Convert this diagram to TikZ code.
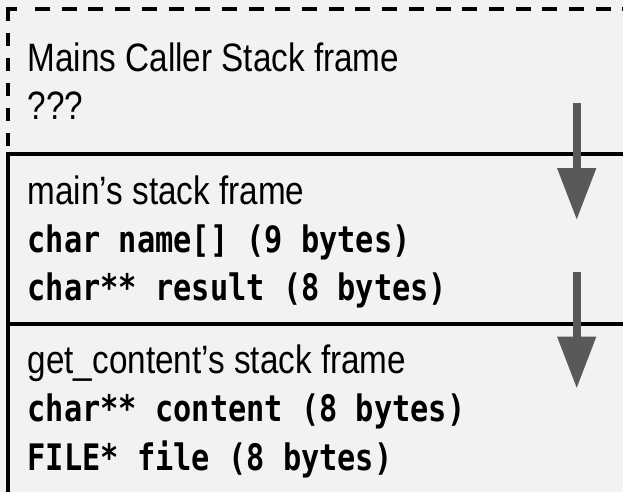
\documentclass[tikz,border=0pt]{standalone}
\usepackage{fontspec}
\setmainfont[FakeStretch=0.84]{Liberation Sans}
\newfontfamily\codefont[FakeStretch=0.83]{DejaVu Sans Mono}
\usetikzlibrary{arrows.meta}
\definecolor{bg}{HTML}{F2F2F2}
\definecolor{arrowgray}{HTML}{595959}
\begin{document}
\begin{tikzpicture}[x=1pt,y=-1pt,
  titletext/.style={anchor=base west, inner sep=0pt, font=\fontsize{39.6}{47}\selectfont},
  codetext/.style={anchor=base west, inner sep=0pt, font=\fontsize{36.5}{44}\selectfont\codefont\bfseries},
  frameline/.style={line width=4pt, draw=black},
  dashline/.style={line width=4pt, draw=black},
  growarrow/.style={draw=arrowgray, line width=8pt, -{Triangle[length=52pt,width=37pt]}}
]
\fill[bg] (0,0) rectangle (623,492);
\useasboundingbox (0,0) rectangle (623,492);

% caller frame (dashed, open)
\draw[dashline, line cap=butt, line join=miter] (8.3,21.5) -- (8.3,9.5) -- (17,9.5);
\draw[dashline, dash pattern=on 15pt off 11.7pt] (35,9.5) -- (623,9.5);
\draw[dashline, dash pattern=on 13pt off 12pt] (8.3,33) -- (8.3,152);

% solid frames
\draw[frameline] (623,153.5) -- (8.3,153.5) -- (8.3,492);
\draw[frameline] (8.3,323.5) -- (623,323.5);

% texts
\node[titletext] (caller) at (27.5,71.7) {Mains Caller Stack frame};
\node[titletext] (unknown) at (27.5,119.3) {???};

\node[titletext] (mainframe) at (27.5,204.3) {main’s stack frame};
\node[codetext] (namevar) at (27.5,252) {char name[] (9 bytes)};
\node[codetext] (resultvar) at (27.5,300) {char** result (8 bytes)};

\node[titletext] (getframe) at (27.5,373) {get\_content’s stack frame};
\node[codetext] (contentvar) at (27.5,421) {char** content (8 bytes)};
\node[codetext] (filevar) at (27.5,470) {FILE* file (8 bytes)};

% growth arrows
\coordinate (a1s) at (576.7,103.3);
\coordinate (a1e) at (576.7,220);
\coordinate (a2s) at (576.7,271.7);
\coordinate (a2e) at (576.7,388.5);
\draw[growarrow] (a1s) -- (a1e);
\draw[growarrow] (a2s) -- (a2e);
\end{tikzpicture}
\end{document}
